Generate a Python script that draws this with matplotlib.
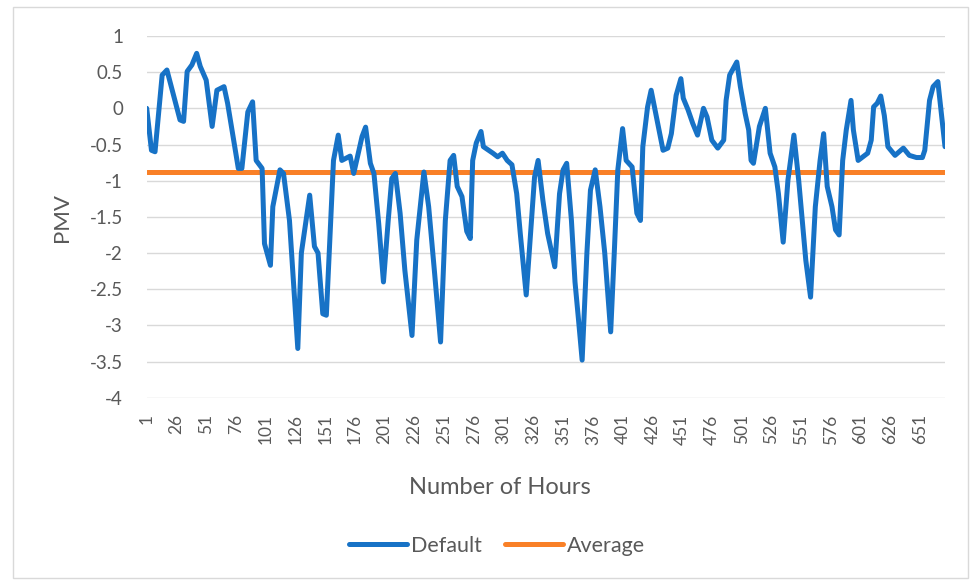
import numpy as np
import matplotlib
matplotlib.use('Agg')
import matplotlib.pyplot as plt
from matplotlib.patches import Rectangle

# PMV readings taken off the reference curve (hour, value)
hours = [1, 5, 8, 14, 18, 29, 32, 35, 39, 43, 46, 51, 56, 60, 66, 69, 78, 81, 86, 90,
         93, 98, 100, 105, 107, 113, 116, 121, 128, 131, 138, 142, 145, 149, 152, 158, 162, 165, 172, 175,
         182, 185, 189, 192, 196, 200, 204, 207, 210, 214, 218, 224, 228, 234, 238, 243, 248, 252, 256, 259,
         262, 266, 270, 273, 275, 278, 282, 284, 292, 296, 300, 304, 308, 312, 315, 320, 324, 327, 330, 334,
         338, 344, 348, 351, 354, 358, 361, 364, 367, 371, 374, 378, 382, 386, 391, 394, 397, 401, 404, 409,
         413, 416, 418, 422, 425, 431, 435, 439, 442, 446, 450, 452, 456, 460, 464, 469, 472, 476, 481, 486,
         488, 491, 494, 497, 500, 504, 507, 509, 511, 516, 521, 525, 529, 532, 536, 540, 545, 549, 552, 555,
         559, 563, 567, 570, 573, 577, 580, 583, 586, 589, 593, 595, 599, 603, 607, 610, 612, 615, 618, 621,
         624, 630, 637, 642, 648, 653, 655, 659, 662, 666, 668, 672]
pmv = [0.0, -0.58, -0.60, 0.46, 0.53, -0.16, -0.18, 0.51, 0.60, 0.76, 0.58, 0.39, -0.25, 0.25, 0.30, 0.07, -0.83, -0.83, -0.05, 0.09,
       -0.72, -0.83, -1.87, -2.17, -1.36, -0.85, -0.90, -1.55, -3.32, -2.0, -1.20, -1.91, -2.0, -2.84, -2.86, -0.72, -0.37, -0.72, -0.66, -0.90,
       -0.39, -0.26, -0.76, -0.90, -1.59, -2.40, -1.55, -0.97, -0.90, -1.45, -2.24, -3.14, -1.82, -0.88, -1.36, -2.28, -3.23, -1.55, -0.72, -0.65,
       -1.08, -1.22, -1.70, -1.80, -0.72, -0.48, -0.32, -0.53, -0.62, -0.67, -0.62, -0.72, -0.78, -1.18, -1.73, -2.58, -1.64, -0.95, -0.72, -1.27,
       -1.73, -2.19, -1.18, -0.85, -0.76, -1.55, -2.40, -2.93, -3.48, -2.0, -1.13, -0.85, -1.36, -2.0, -3.09, -2.0, -0.85, -0.28, -0.72, -0.81,
       -1.45, -1.55, -0.53, 0.02, 0.25, -0.25, -0.58, -0.55, -0.35, 0.18, 0.41, 0.14, -0.02, -0.21, -0.37, 0.0, -0.12, -0.44, -0.55, -0.44,
       0.11, 0.46, 0.55, 0.64, 0.30, -0.07, -0.30, -0.72, -0.76, -0.25, 0.0, -0.62, -0.81, -1.18, -1.85, -0.99, -0.37, -0.99, -1.55, -2.10,
       -2.61, -1.36, -0.72, -0.35, -1.08, -1.36, -1.68, -1.75, -0.72, -0.30, 0.11, -0.30, -0.72, -0.67, -0.62, -0.44, 0.02, 0.07, 0.17, -0.10,
       -0.53, -0.65, -0.55, -0.65, -0.68, -0.68, -0.58, 0.11, 0.30, 0.37, 0.07, -0.53]
n_hours = 672
average = -0.885
xtick_labels = list(range(1, 652, 25))
yticks = np.arange(-4, 1.01, 0.5)

blue = '#1772C6'
orange = '#F98027'
grey = '#595959'

plt.rcParams['font.family'] = ['Lato', 'DejaVu Sans']

fig = plt.figure(figsize=(9.71, 5.80), dpi=100)
ax = fig.add_axes([146.7/971, 1-397.7/580, (945-146.7)/971, (397.7-36)/580])

ax.plot(hours, pmv, color=blue, lw=3.6, solid_joinstyle='round', solid_capstyle='round', label='Default', zorder=3)
ax.plot([1, n_hours], [average, average], color=orange, lw=3.6, solid_capstyle='round', label='Average', zorder=2)

ax.set_xlim(1, n_hours)
ax.set_ylim(-4, 1)
ax.set_yticks(yticks)
ax.set_yticklabels(['{:g}'.format(v) for v in yticks])
ax.set_xticks(xtick_labels)
ax.set_xticklabels([str(v) for v in xtick_labels], rotation=90)
ax.grid(axis='y', color='#D9D9D9', lw=1.0)
ax.set_axisbelow(True)
for s in ax.spines.values():
    s.set_visible(False)
ax.tick_params(axis='both', length=0, colors=grey)
ax.tick_params(axis='x', pad=12, labelsize=12.5)
ax.tick_params(axis='y', pad=17, labelsize=13.5)

fig.text(500/971, 1-488/580, 'Number of Hours', ha='center', va='center', fontsize=17, color=grey)
fig.text(62/971, 1-218/580, 'PMV', ha='center', va='center', rotation=90, fontsize=16, color=grey)

leg = fig.legend(loc='center', bbox_to_anchor=(497/971, 1-546/580), ncol=2, frameon=False,
                 fontsize=15.5, handlelength=2.7, handletextpad=0.15, columnspacing=1.1)
for t in leg.get_texts():
    t.set_color(grey)

fig.patches.append(Rectangle((13/971, 2/580), 955/971, 571/580, transform=fig.transFigure,
                             fill=False, edgecolor='#D9D9D9', lw=1.0))

fig.savefig('out.png', dpi=100)
